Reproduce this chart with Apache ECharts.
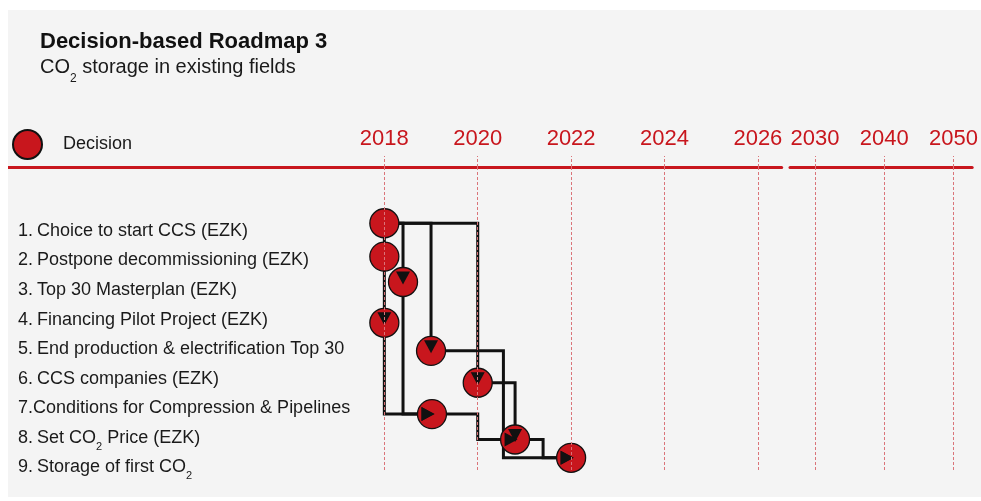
<!DOCTYPE html>
<html>
<head>
<meta charset="utf-8">
<script src="https://cdn.jsdelivr.net/npm/echarts@6/dist/echarts.min.js"></script>
<style>
html,body{margin:0;padding:0;background:#ffffff;}
#chart{position:absolute;left:8px;top:10px;width:973px;height:487px;}
</style>
</head>
<body>
<div id="chart"></div>
<script>
// ---- data ----
var titleText = 'Decision-based Roadmap 3';
var subtitleText = '{n|CO}{sub|2}{n| storage in existing fields}';
var legendName = 'Decision';

var nearYears = [2018, 2020, 2022, 2024, 2026];   // tick labels, first axis segment
var farYears = [2030, 2040, 2050];                // tick labels, second axis segment

var rowValues = [1, 2, 3, 4, 5, 6, 7, 8, 9];
var rowLabels = [
  '{num|1.}{t|Choice to start CCS (EZK)}',
  '{num|2.}{t|Postpone decommissioning (EZK)}',
  '{num|3.}{t|Top 30 Masterplan (EZK)}',
  '{num|4.}{t|Financing Pilot Project (EZK)}',
  '{num|5.}{t|End production & electrification Top 30}',
  '{num|6.}{t|CCS companies (EZK)}',
  '{t|7.Conditions for Compression & Pipelines}',
  '{num|8.}{t|Set CO}{sub|2}{t| Price (EZK)}',
  '{num|9.}{t|Storage of first CO}{sub|2}'
];

// decision nodes: year and row position
var nodeYear = [2018.0, 2018.0, 2018.4, 2018.0, 2019.0, 2020.0, 2019.02, 2020.8, 2022.0];
var nodeRow  = [0.74, 1.87, 2.73, 4.11, 5.06, 6.14, 7.20, 8.06, 8.68];

// dependencies between decisions (1-based node numbers)
var edgeFrom  = [1, 1, 1, 1, 2, 4, 3, 5, 6, 7, 8];
var edgeTo    = [6, 3, 5, 2, 4, 7, 7, 9, 8, 8, 9];
var edgeRoute = ['HV', 'HV', 'HV', 'V', 'V', 'VH', 'VH', 'HVH', 'HV', 'HVH', 'HVH'];
var edgeBend  = [null, null, null, null, null, null, null, 2020.55, null, 2020.0, 2021.4];
var edgeArrow = [1, 1, 1, 0, 1, 1, 1, 1, 1, 1, 1];

// ---- chart ----
var FONT = 'Liberation Sans, Arial, sans-serif';
var RED = '#c8161d';
var DASH = '#da7479';

function edgePoints(i) {
  var f = edgeFrom[i] - 1, t = edgeTo[i] - 1;
  var a = [nodeYear[f], nodeRow[f]];
  var b = [nodeYear[t], nodeRow[t]];
  var r = edgeRoute[i];
  if (r === 'V') return [a, b];
  if (r === 'HV') return [a, [b[0], a[1]], b];
  if (r === 'VH') return [a, [a[0], b[1]], b];
  return [a, [edgeBend[i], a[1]], [edgeBend[i], b[1]], b];
}

var edgeData = edgeFrom.map(function (f, i) {
  return [nodeYear[edgeTo[i] - 1], nodeRow[edgeTo[i] - 1], i];
});
var arrowData = edgeData.filter(function (d) { return edgeArrow[d[2]] === 1; });
var nodeData = nodeYear.map(function (x, i) { return [x, nodeRow[i]]; });

var chart = echarts.init(document.getElementById('chart'), null, {renderer: 'canvas'});

function yearFmt(v) { return String(Math.round(v)); }

var option = {
  animation: false,
  backgroundColor: '#f4f4f4',
  textStyle: {fontFamily: FONT},
  title: [
    {
      text: titleText, left: 32, top: 21, padding: 0,
      textStyle: {fontSize: 22, fontWeight: 'bold', color: '#111', fontFamily: FONT}
    },
    {
      text: subtitleText, left: 32, top: 40, padding: 0,
      textStyle: {
        fontFamily: FONT, fontWeight: 'normal',
        rich: {
          n: {fontSize: 20, color: '#1a1a1a', fontFamily: FONT, fontWeight: 'normal'},
          sub: {fontSize: 12, color: '#1a1a1a', fontFamily: FONT, fontWeight: 'normal', padding: [23, 0, 0, 0]}
        }
      }
    }
  ],
  legend: {
    data: [legendName], left: 4, top: 119, padding: 0,
    itemWidth: 29, itemHeight: 29, icon: 'circle',
    textStyle: {fontSize: 18, color: '#1a1a1a', fontFamily: FONT, padding: [0, 0, 0, 16]}
  },
  grid: [
    {left: 0, right: 199.3, top: 157, bottom: 25},
    {left: 782, right: 8.3, top: 157, bottom: 25}
  ],
  xAxis: [
    {
      type: 'value', gridIndex: 0, position: 'top', min: 2009.94, max: 2026.51,
      axisLine: {show: true, onZero: false, lineStyle: {color: RED, width: 3}},
      axisTick: {show: true, customValues: nearYears, length: 11, lineStyle: {color: DASH, width: 1, type: [3, 2]}},
      axisLabel: {show: true, customValues: nearYears, formatter: yearFmt, margin: 17, color: RED, fontSize: 22, fontFamily: FONT},
      splitLine: {show: false}
    },
    {
      type: 'value', gridIndex: 1, position: 'top', min: 2026.4, max: 2052.69,
      axisLine: {show: true, onZero: false, lineStyle: {color: RED, width: 3}},
      axisTick: {show: true, customValues: farYears, length: 11, lineStyle: {color: DASH, width: 1, type: [3, 2]}},
      axisLabel: {show: true, customValues: farYears, formatter: yearFmt, margin: 17, color: RED, fontSize: 22, fontFamily: FONT},
      splitLine: {show: false}
    }
  ],
  yAxis: [
    {
      type: 'value', gridIndex: 0, inverse: true, min: -1.163, max: 9.16,
      axisLine: {show: false}, axisTick: {show: false}, splitLine: {show: false},
      axisLabel: {
        show: true, inside: true, align: 'left', margin: 10, customValues: rowValues,
        formatter: function (v) { return rowLabels[Math.round(v) - 1]; },
        rich: {
          num: {width: 19, fontSize: 18, color: '#1a1a1a', fontFamily: FONT},
          t: {fontSize: 18, color: '#1a1a1a', fontFamily: FONT},
          sub: {fontSize: 11, color: '#1a1a1a', fontFamily: FONT, padding: [18, 0, 0, 0]}
        }
      }
    },
    {
      type: 'value', gridIndex: 1, inverse: true, min: -1.163, max: 9.16, show: false
    }
  ],
  series: [
    {
      type: 'custom', name: 'links', xAxisIndex: 0, yAxisIndex: 0, z: 2, silent: true,
      data: edgeData,
      renderItem: function (params, api) {
        var i = api.value(2);
        var pts = edgePoints(i).map(function (p) { return api.coord(p); });
        return {type: 'polyline', shape: {points: pts}, style: {stroke: '#111', lineWidth: 3, fill: null}};
      },
      markLine: {
        silent: true, symbol: ['none', 'none'], label: {show: false},
        lineStyle: {color: DASH, width: 1, type: [3, 2]},
        data: nearYears.map(function (y) { return {xAxis: y}; })
      }
    },
    {
      type: 'scatter', name: legendName, xAxisIndex: 0, yAxisIndex: 0, z: 3,
      symbol: 'circle', symbolSize: 29,
      itemStyle: {color: RED, borderColor: '#111', borderWidth: 1.3, opacity: 1},
      data: nodeData
    },
    {
      type: 'custom', name: 'arrows', xAxisIndex: 0, yAxisIndex: 0, z: 4, silent: true,
      data: arrowData,
      renderItem: function (params, api) {
        var i = api.value(2);
        var pts = edgePoints(i).map(function (p) { return api.coord(p); });
        var b = pts[pts.length - 1], a = pts[pts.length - 2];
        var dx = b[0] - a[0], dy = b[1] - a[1];
        var L = Math.sqrt(dx * dx + dy * dy) || 1;
        dx /= L; dy /= L;
        var tip = [b[0] + dx * 2.5, b[1] + dy * 2.5];
        var base = [tip[0] - dx * 13, tip[1] - dy * 13];
        var px = -dy, py = dx;
        return {
          type: 'polygon',
          shape: {points: [tip, [base[0] + px * 7, base[1] + py * 7], [base[0] - px * 7, base[1] - py * 7]]},
          style: {fill: '#111', stroke: null}
        };
      }
    },
    {
      type: 'scatter', name: 'far', xAxisIndex: 1, yAxisIndex: 1, data: [], silent: true,
      markLine: {
        silent: true, symbol: ['none', 'none'], label: {show: false},
        lineStyle: {color: DASH, width: 1, type: [3, 2]},
        data: farYears.map(function (y) { return {xAxis: y}; })
      }
    }
  ]
};
chart.setOption(option);
</script>
</body>
</html>
